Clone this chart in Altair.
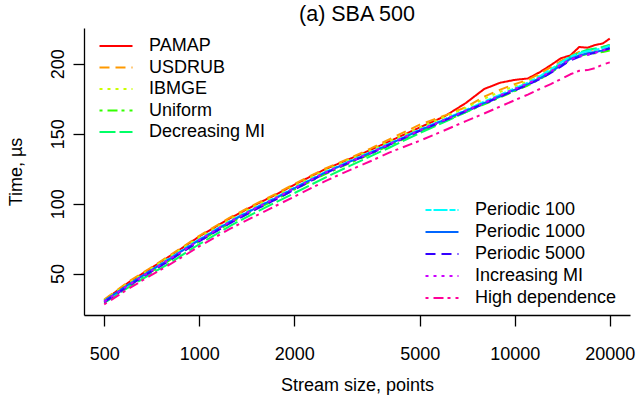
import altair as alt
import pandas as pd

# Stream sizes (points) at which the run time was measured
sizes = [500, 600, 700, 800, 900, 1000, 1250, 1500, 1750, 2000, 2500, 3000, 3500, 4000,
         5000, 6000, 7000, 8000, 9000, 10000, 11000, 12000, 13000, 14000, 15000,
         16000, 17000, 18000, 19000, 20000]

# Mean time per update, microseconds
pamap = [31, 44, 53.5, 62, 69.5, 76.5, 89.5, 99, 106.5, 113.5, 124.5, 132, 138.5, 144.5,
         154.5, 162.5, 172, 182, 186.5, 188.5, 189.5, 194, 199, 204, 206,
         212, 211.5, 213.5, 214.5, 218]
usdrub = [31.5, 44.5, 54, 62.5, 70, 77, 90, 99.5, 107, 114, 125, 132.5, 139.5, 146,
          156.5, 163, 169, 176.5, 181.5, 185.5, 188.5, 193, 197.5, 202, 205.5,
          208.5, 209.5, 210.5, 212, 213.5]
ibmge = [31, 43.5, 53, 61.5, 69, 75.5, 88.5, 98, 105.5, 112.5, 123.5, 131.5, 138, 144.5,
         154.5, 162, 168.5, 175, 180, 184, 187.5, 191.5, 196, 201, 205,
         207.5, 209, 210, 211, 213]
uniform = [29.5, 41.5, 51, 59, 66.5, 73, 86, 95.5, 103, 110, 121, 129, 135.5, 141.5,
           151.5, 159, 165.5, 171, 176, 180.5, 184.5, 189, 193.5, 198.5, 203,
           205.5, 207, 207.5, 208.5, 209.5]
decreasing_mi = [29, 40.5, 49.5, 57, 64.5, 71, 84, 93.5, 101, 107.5, 118.5, 127, 134, 140,
                 150.5, 158.5, 165.5, 171.5, 176.5, 181, 185.5, 190, 195, 200.5, 205,
                 208, 210, 211, 212, 213.5]
periodic_100 = [30, 42.5, 52, 60.5, 68, 74.5, 87.5, 97, 104.5, 111.5, 122.5, 130.5, 137, 143,
                153, 160.5, 167, 173, 178, 182.5, 186.5, 191, 196, 201, 205,
                207.5, 209, 210, 211, 213]
periodic_1000 = [30.5, 42.5, 52, 60, 67.5, 74, 87, 96.5, 104, 111, 122, 130, 136.5, 142.5,
                 152.5, 160, 166.5, 172, 177, 181.5, 185.5, 189.5, 194, 199, 203.5,
                 206, 207.5, 208.5, 209.5, 211.5]
periodic_5000 = [29.5, 41.5, 51, 59, 66.5, 73, 86, 95.5, 103, 110, 121.5, 129.5, 136, 142,
                 152, 159.5, 166, 171.5, 176.5, 181, 185, 189, 193.5, 198, 202.5,
                 205, 206.5, 208, 209.5, 211]
increasing_mi = [30, 42, 51.5, 60, 67, 74, 87, 96.5, 104, 111, 122, 130, 136.5, 142.5,
                 152.5, 160, 166.5, 172, 177.5, 182, 186, 190, 194.5, 199.5, 203,
                 205.5, 206.5, 208, 209.5, 211]
high_dependence = [28, 39.5, 48.5, 56, 63, 69.5, 82, 91, 98.5, 105, 116, 124, 130.5, 136.5,
                   145, 152.5, 159, 164.5, 169.5, 174, 178, 182, 185.5, 189, 192.5,
                   195, 195.5, 197, 199.5, 201]

names_a = ["PAMAP", "USDRUB", "IBMGE", "Uniform", "Decreasing MI"]
names_b = ["Periodic 100", "Periodic 1000", "Periodic 5000", "Increasing MI", "High dependence"]
values_a = [pamap, usdrub, ibmge, uniform, decreasing_mi]
values_b = [periodic_100, periodic_1000, periodic_5000, increasing_mi, high_dependence]

# R rainbow(10) palette and lty 1..6 (recycled), dash lengths for lwd = 2
colors_a = ["#FF0000", "#FF9900", "#CCFF00", "#33FF00", "#00FF66"]
colors_b = ["#00FFFF", "#0066FF", "#3300FF", "#CC00FF", "#FF0099"]
solid, dashed, dotted, dotdash, longdash, twodash = (
    [1, 0], [10, 6], [3, 5], [3, 5, 10, 4], [16, 4], [6, 2, 14, 2])
dashes_a = [solid, dashed, dotted, dotdash, longdash]
dashes_b = [twodash, solid, dashed, dotted, dotdash]


def long_table(names, values):
    rows = []
    for name, vals in zip(names, values):
        for n, v in zip(sizes, vals):
            rows.append({"size": n, "time": v, "series": name})
    return pd.DataFrame(rows)


FONT = "Liberation Sans"
W, H = 546, 287

x_enc = alt.X("size:Q",
              scale=alt.Scale(type="log", domain=[431.4, 23182], nice=False),
              axis=alt.Axis(values=[500, 1000, 2000, 5000, 10000, 20000], format="d",
                            title="Stream size, points", titleY=75,
                            titleBaseline="alphabetic", labelBaseline="alphabetic",
                            labelPadding=33, labelFlush=False))
y_enc = alt.Y("time:Q",
              scale=alt.Scale(domain=[20.4, 225.6], nice=False, zero=False),
              axis=alt.Axis(values=[50, 100, 150, 200], title="Time, µs",
                            labelAngle=270, labelAlign="center", labelBaseline="alphabetic",
                            labelPadding=10, titleX=-62.5, titleAngle=270,
                            titleBaseline="alphabetic", titleAlign="center"))


def legend(lx, ly, gap):
    return alt.Legend(orient="none", legendX=lx, legendY=ly, title=None,
                      labelFont=FONT, labelFontSize=18, labelColor="black",
                      symbolType="M-1,0H5", symbolSize=121, symbolStrokeWidth=2,
                      labelOffset=35, rowPadding=gap, padding=0)


def layer(names, values, colors, dashes, lx, ly, gap):
    lg = legend(lx, ly, gap)
    return alt.Chart(long_table(names, values)).mark_line(strokeWidth=2, strokeJoin="round").encode(
        x=x_enc, y=y_enc,
        color=alt.Color("series:N", scale=alt.Scale(domain=names, range=colors), legend=lg),
        strokeDash=alt.StrokeDash("series:N", scale=alt.Scale(domain=names, range=dashes), legend=lg),
    )


chart = alt.layer(
    layer(names_a, values_a, colors_a, dashes_a, 12, 9, 3.5),
    layer(names_b, values_b, colors_b, dashes_b, 338, 173, 4),
).resolve_scale(color="independent", strokeDash="independent").properties(
    width=W, height=H,
    autosize=alt.AutoSizeParams(type="none"),
    padding={"left": 84, "top": 28, "right": 8, "bottom": 81},
    title=alt.Title("(a) SBA 500", font=FONT, fontSize=21.5, fontWeight="normal",
                    color="black", anchor="middle", baseline="alphabetic", offset=6.5, dy=21),
).configure_axis(
    labelFont=FONT, labelFontSize=18, labelColor="black",
    titleFont=FONT, titleFontSize=18, titleColor="black", titleFontWeight="normal",
    domainColor="black", domainWidth=1.3, tickColor="black", tickWidth=1.3, tickSize=11,
    grid=False,
).configure_view(strokeWidth=0)

chart.save("out.html", embed_options={"renderer": "svg", "actions": False})
